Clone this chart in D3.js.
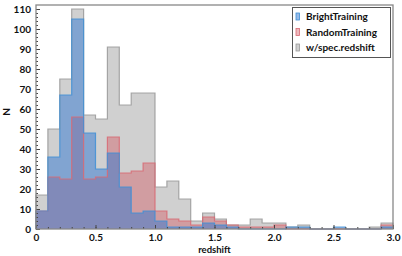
<!DOCTYPE html>
<html>
  <head>
    <script src="https://d3js.org/d3.v7.min.js"></script>
    <style>
      body { margin: 0; background: #fff; }
      text { font-family: Lato, "DejaVu Sans", sans-serif; font-weight: bold; fill: #111; }
    </style>
  </head>
  <body>
    <svg id="plot" width="402" height="256"></svg>
    <script>
      // bin edges 0.0 .. 3.0, step 0.1
      const binStart = [0.0,0.1,0.2,0.3,0.4,0.5,0.6,0.7,0.8,0.9,1.0,1.1,1.2,1.3,1.4,1.5,1.6,1.7,1.8,1.9,2.0,2.1,2.2,2.3,2.4,2.5,2.6,2.7,2.8,2.9];
      const binWidth = 0.1;
      const specCounts   = [17,50,75,110,57,55,91,62,68,68,21,24,15,4,8,5,2,2,5,3,3,1,2,0,0,0,0,0,1,3];
      const randomCounts = [9,26,25,56,25,26,46,28,29,33,9,5,4,2,6,4,2,1,1,1,2,0,0,0,0,0,0,0,0,2];
      const brightCounts = [9,36,67,105,48,30,38,21,8,9,4,1,1,1,3,2,1,0,0,0,0,1,1,0,0,1,0,0,0,1];
      const xTicks = [0, 0.5, 1.0, 1.5, 2.0, 2.5, 3.0];
      const yTicks = [0,10,20,30,40,50,60,70,80,90,100,110];

      const margin = { top: 5, right: 9, bottom: 27, left: 36 };
      const svg = d3.select("#plot");
      const width = +svg.attr("width") - margin.left - margin.right;
      const height = +svg.attr("height") - margin.top - margin.bottom;

      const x = d3.scaleLinear().domain([0, 3.0]).range([0, width]);
      const y = d3.scaleLinear().domain([0, 112]).range([height, 0]);

      const g = svg.append("g")
        .attr("transform", "translate(" + margin.left + "," + margin.top + ")");

      const spec = { name: "w/spec.redshift", counts: specCounts, fill: "rgb(150,150,150)", op: 0.45, stroke: "#999" };
      const bright = { name: "BrightTraining", counts: brightCounts, fill: "rgb(50,120,210)", op: 0.5, stroke: "#3f8fd6" };
      const random = { name: "RandomTraining", counts: randomCounts, fill: "rgb(210,80,90)", op: 0.4, stroke: "#d86a74" };
      // draw order
      const series = [spec, random, bright];

      function stepPoints(counts) {
        const pts = [[binStart[0], 0]];
        counts.forEach(function(c, i) {
          pts.push([binStart[i], c]);
          pts.push([binStart[i] + binWidth, c]);
        });
        pts.push([binStart[binStart.length - 1] + binWidth, 0]);
        return pts;
      }

      const line = d3.line().x(d => x(d[0])).y(d => y(d[1]));

      series.forEach(function(s) {
        g.append("path")
          .attr("d", line(stepPoints(s.counts)) + "Z")
          .attr("fill", s.fill)
          .attr("fill-opacity", s.op)
          .attr("stroke", "none");
      });
      series.forEach(function(s) {
        g.append("path")
          .attr("d", line(stepPoints(s.counts)))
          .attr("fill", "none")
          .attr("stroke", s.stroke)
          .attr("stroke-opacity", 0.85)
          .attr("stroke-width", 1.2);
      });

      // axes, ticks pointing inward
      g.append("g")
        .attr("transform", "translate(0," + height + ")")
        .call(d3.axisBottom(x).tickValues(xTicks).tickFormat(d => d === 0 ? "0" : d3.format(".1f")(d)).tickSize(-4).tickPadding(5));
      g.append("g")
        .attr("transform", "translate(0," + height + ")")
        .call(d3.axisBottom(x).tickValues(d3.range(0, 31).map(i => i / 10)).tickFormat("").tickSize(-2));
      g.append("g")
        .call(d3.axisLeft(y).tickValues(yTicks).tickSize(-4).tickPadding(5));
      g.append("g")
        .call(d3.axisLeft(y).tickValues(d3.range(0, 112, 2)).tickFormat("").tickSize(-2));

      g.selectAll(".domain").remove();
      g.selectAll(".tick line").attr("stroke", "#444");
      g.selectAll(".tick text").style("font-size", "10px").style("font-family", "Lato, sans-serif").style("font-weight", "bold").attr("fill", "#111");

      // frame
      g.append("rect")
        .attr("width", width).attr("height", height)
        .attr("fill", "none").attr("stroke", "#888").attr("stroke-width", 1.3);

      // labels
      svg.append("text")
        .attr("x", margin.left + width / 2).attr("y", 253)
        .attr("text-anchor", "middle").style("font-size", "9.5px")
        .text("redshift");
      svg.append("text")
        .attr("transform", "translate(10,112) rotate(-90)")
        .attr("text-anchor", "middle").style("font-size", "10px")
        .text("N");

      // legend
      const legendItems = [bright, random, spec];
      const lg = svg.append("g");
      lg.append("rect")
        .attr("x", 292.5).attr("y", 7.5).attr("width", 98).attr("height", 50)
        .attr("fill", "#fff").attr("stroke", "#555").attr("stroke-width", 1);
      legendItems.forEach(function(s, i) {
        const yy = 20 + i * 15.5;
        lg.append("rect")
          .attr("x", 296).attr("y", yy - 7).attr("width", 3.5).attr("height", 7)
          .attr("fill", s.fill).attr("fill-opacity", s.op)
          .attr("stroke", s.stroke).attr("stroke-width", 0.8);
        lg.append("text")
          .attr("x", 306).attr("y", yy)
          .style("font-size", "10px")
          .text(s.name);
      });
    </script>
  </body>
</html>
